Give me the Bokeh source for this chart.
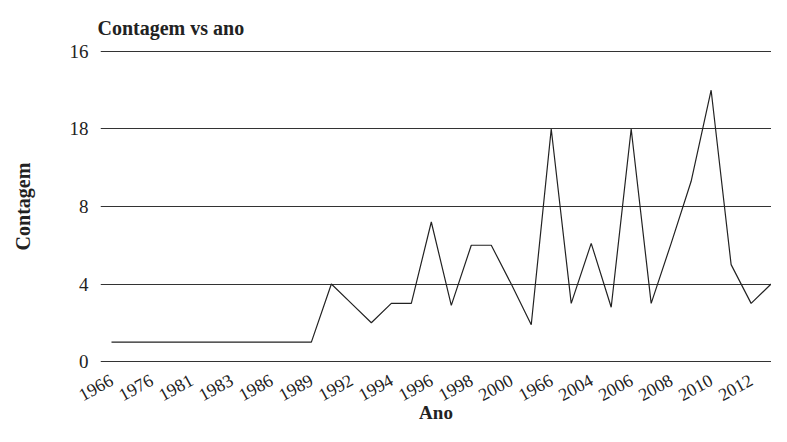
from bokeh.plotting import figure
from bokeh.models import Range1d, FixedTicker
from bokeh.embed import file_html
from bokeh.resources import INLINE

# ---- data ----
x_tick_labels = ["1966", "1976", "1981", "1983", "1986", "1989", "1992", "1994",
                 "1996", "1998", "2000", "1966", "2004", "2006", "2008", "2010", "2012"]
counts = [1, 1, 1, 1, 1, 1, 1, 1, 1, 1, 1,
          4, 3, 2, 3, 3, 7.2, 2.9, 6, 6, 4, 1.9, 12, 3, 6.1, 2.8, 12, 3,
          6.1, 9.3, 14, 5, 3, 4]
y_tick_values = [0, 4, 8, 12, 16]
y_tick_labels = ["0", "4", "8", "18", "16"]

positions = list(range(len(counts)))
x_tick_positions = positions[::2][:len(x_tick_labels)]

FONT = "Liberation Serif"

p = figure(width=771, height=426, output_backend="svg", toolbar_location=None,
           x_range=Range1d(-0.55, 33.02), y_range=Range1d(-0.05, 16.05),
           min_border_left=100, min_border_right=0, min_border_top=50, min_border_bottom=62,
           title="Contagem vs ano")

p.line(positions, counts, line_color="#222222", line_width=1.2)

p.outline_line_color = None
p.background_fill_color = "white"
p.border_fill_color = "white"

# title
p.title.text_font = FONT
p.title.text_font_size = "20px"
p.title.text_font_style = "bold"
p.title.text_color = "#222222"
p.title.align = "left"
p.title.offset = -3
p.title.standoff = 24

# x axis
xa = p.xaxis[0]
xa.ticker = FixedTicker(ticks=x_tick_positions)
xa.major_label_overrides = {pos: lab for pos, lab in zip(x_tick_positions, x_tick_labels)}
xa.major_label_orientation = 0.5
xa.axis_label = "Ano"
ya = p.yaxis[0]
ya.ticker = FixedTicker(ticks=y_tick_values)
ya.major_label_overrides = {v: lab for v, lab in zip(y_tick_values, y_tick_labels)}
ya.axis_label = "Contagem"

for ax in (xa, ya):
    ax.axis_line_color = None
    ax.major_tick_line_color = None
    ax.minor_tick_line_color = None
    ax.major_tick_out = 0
    ax.major_tick_in = 0
    ax.major_label_text_font = FONT
    ax.major_label_text_color = "#222222"
    ax.axis_label_text_font = FONT
    ax.axis_label_text_font_style = "bold"
    ax.axis_label_text_color = "#222222"

xa.major_label_text_font_size = "18px"
ya.major_label_text_font_size = "19px"
xa.axis_label_text_font_size = "19px"
ya.axis_label_text_font_size = "20px"

xa.major_label_standoff = 16
xa.axis_label_standoff = -8
ya.major_label_standoff = 12
ya.axis_label_standoff = 33

p.xgrid.grid_line_color = None
p.ygrid.grid_line_color = "#333333"
p.ygrid.grid_line_width = 1

open("out.html", "w").write(file_html(p, INLINE))
